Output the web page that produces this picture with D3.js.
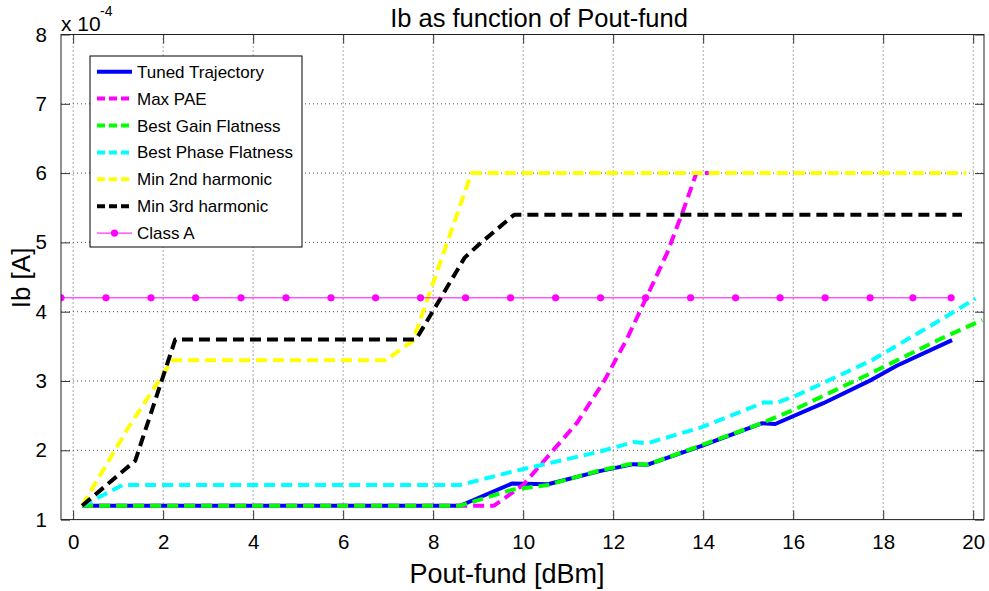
<!DOCTYPE html>
<html>
<head>
<meta charset="utf-8">
<script src="https://cdn.jsdelivr.net/npm/d3@7/dist/d3.min.js"></script>
<style>
  html, body { margin: 0; padding: 0; background: #fff; }
  svg { display: block; font-family: "Liberation Sans", Arial, Helvetica, sans-serif; }
</style>
</head>
<body>
<svg id="chart" width="989" height="591"></svg>
<script>
// Base current (x 1e-4 A) versus fundamental output power (dBm) for each load trajectory.
const tunedTrajectory = [[0.2,1.2],[8.6,1.2],[9.75,1.52],[10.55,1.51],[11.7,1.70],[12.45,1.80],[12.75,1.79],[13.95,2.06],[15.3,2.39],[15.6,2.38],[16.67,2.68],[17.75,3.02],[18.3,3.22],[19.53,3.59]];
const maxPAE = [[0.2,1.2],[9.35,1.2],[10.0,1.5],[11.2,2.4],[11.8,3.0],[12.3,3.6],[12.75,4.22],[13.2,4.85],[13.55,5.45],[13.85,6.0],[14.3,6.0]];
const bestGainFlatness = [[0.2,1.2],[8.6,1.2],[9.75,1.43],[10.55,1.50],[11.7,1.71],[12.45,1.81],[12.75,1.79],[13.95,2.07],[15.3,2.39],[16.1,2.61],[17.75,3.12],[19.25,3.60],[20.2,3.88]];
const bestPhaseFlatness = [[0.2,1.2],[1.1,1.5],[8.6,1.5],[9.75,1.69],[10.55,1.81],[11.7,1.98],[12.45,2.12],[12.75,2.10],[13.95,2.33],[15.35,2.69],[15.65,2.69],[16.1,2.80],[17.75,3.30],[19.4,3.93],[20.05,4.19]];
const min2ndHarmonic = [[0.2,1.2],[1.2,2.3],[2.2,3.3],[6.95,3.3],[7.55,3.58],[8.85,6.0],[19.85,6.0]];
const min3rdHarmonic = [[0.2,1.2],[1.38,1.85],[2.27,3.6],[7.62,3.6],[8.7,4.78],[9.0,4.96],[9.8,5.4],[19.75,5.4]];
const classAPout = [-0.27,0.73,1.73,2.72,3.73,4.73,5.73,6.72,7.72,8.72,9.72,10.72,11.72,12.72,13.72,14.72,15.71,16.71,17.71,18.66,19.51];
const classAIb = [4.2,4.2,4.2,4.2,4.2,4.2,4.2,4.2,4.2,4.2,4.2,4.2,4.2,4.2,4.2,4.2,4.2,4.2,4.2,4.2,4.2];

const seriesNames = ["Tuned Trajectory","Max PAE","Best Gain Flatness","Best Phase Flatness","Min 2nd harmonic","Min 3rd harmonic","Class A"];
const seriesColors = ["#0000ff","#ff00ff","#00ff00","#00ffff","#ffff00","#000000","#ff00ff"];
const xTickValues = [0,2,4,6,8,10,12,14,16,18,20];
const yTickValues = [1,2,3,4,5,6,7,8];

const titleText = "Ib as function of Pout-fund";
const xLabelText = "Pout-fund [dBm]";
const yLabelText = "Ib [A]";

const svg = d3.select("#chart");
const plot = { left: 61, right: 984, top: 34.5, bottom: 519.6 };

const x = d3.scaleLinear().domain([-0.27, 20.24]).range([plot.left, plot.right]);
const y = d3.scaleLinear().domain([1, 8]).range([plot.bottom, plot.top]);

svg.append("rect").attr("width", 989).attr("height", 591).attr("fill", "#fff");

svg.append("clipPath").attr("id", "plotClip")
  .append("rect")
  .attr("x", plot.left).attr("y", plot.top)
  .attr("width", plot.right - plot.left).attr("height", plot.bottom - plot.top);

// dotted grid
const grid = svg.append("g");
grid.selectAll("line.gx").data(xTickValues).join("line")
  .attr("x1", d => x(d)).attr("x2", d => x(d))
  .attr("y1", plot.top).attr("y2", plot.bottom)
  .attr("stroke", "#555").attr("stroke-width", 1).attr("stroke-dasharray", "1,3");
grid.selectAll("line.gy").data(yTickValues).join("line")
  .attr("y1", d => y(d)).attr("y2", d => y(d))
  .attr("x1", plot.left).attr("x2", plot.right)
  .attr("stroke", "#555").attr("stroke-width", 1).attr("stroke-dasharray", "1,3");

// axes with inward ticks on all four sides
const tickLen = 9;
const axisFont = 20.5;
const bottomAxis = d3.axisBottom(x).tickValues(xTickValues).tickSize(-tickLen).tickPadding(15).tickFormat(d3.format("d"));
const topAxis = d3.axisTop(x).tickValues(xTickValues).tickSize(-tickLen).tickFormat("");
const leftAxis = d3.axisLeft(y).tickValues(yTickValues).tickSize(-tickLen).tickPadding(14).tickFormat(d3.format("d"));
const rightAxis = d3.axisRight(y).tickValues(yTickValues).tickSize(-tickLen).tickFormat("");

function styleAxis(g) {
  g.select(".domain").remove();
  g.selectAll(".tick line").attr("stroke", "#333").attr("stroke-width", 1);
  g.selectAll(".tick text").attr("fill", "#000").attr("font-size", axisFont)
    .attr("font-family", "'Liberation Sans', Arial, sans-serif");
}
svg.append("g").attr("transform", `translate(0,${plot.bottom})`).call(bottomAxis).call(styleAxis);
svg.append("g").attr("transform", `translate(0,${plot.top})`).call(topAxis).call(styleAxis);
svg.append("g").attr("transform", `translate(${plot.left},0)`).call(leftAxis).call(styleAxis);
svg.append("g").attr("transform", `translate(${plot.right},0)`).call(rightAxis).call(styleAxis);

// series
const lineGen = d3.line().x(d => x(d[0])).y(d => y(d[1]));
const data = svg.append("g").attr("clip-path", "url(#plotClip)");
const dashed = "11,6";
const lineSeries = [
  { pts: tunedTrajectory, color: seriesColors[0], dash: null },
  { pts: maxPAE, color: seriesColors[1], dash: dashed },
  { pts: bestGainFlatness, color: seriesColors[2], dash: dashed },
  { pts: bestPhaseFlatness, color: seriesColors[3], dash: dashed },
  { pts: min2ndHarmonic, color: seriesColors[4], dash: dashed },
  { pts: min3rdHarmonic, color: seriesColors[5], dash: dashed }
];
lineSeries.forEach(s => {
  data.append("path")
    .attr("d", lineGen(s.pts))
    .attr("fill", "none")
    .attr("stroke", s.color)
    .attr("stroke-width", 4)
    .attr("stroke-linejoin", "round")
    .attr("stroke-dasharray", s.dash);
});

const classA = classAPout.map((p, i) => [p, classAIb[i]]);
data.append("path").attr("d", lineGen(classA))
  .attr("fill", "none").attr("stroke", seriesColors[6]).attr("stroke-width", 1);
data.selectAll("circle.classA").data(classA).join("circle")
  .attr("cx", d => x(d[0])).attr("cy", d => y(d[1])).attr("r", 3.6)
  .attr("fill", seriesColors[6]);

// box
svg.append("rect")
  .attr("x", plot.left).attr("y", plot.top)
  .attr("width", plot.right - plot.left).attr("height", plot.bottom - plot.top)
  .attr("fill", "none").attr("stroke", "#222").attr("stroke-width", 1);

// exponent marker
svg.append("text").attr("x", 61).attr("y", 31).attr("font-size", 21).attr("fill", "#000").text("x 10");
svg.append("text").attr("x", 100).attr("y", 16).attr("font-size", 14).attr("fill", "#000").text("-4");

// title and axis labels
svg.append("text").attr("x", 539).attr("y", 27).attr("text-anchor", "middle")
  .attr("font-size", 25.5).attr("fill", "#000").text(titleText);
svg.append("text").attr("x", 507).attr("y", 583).attr("text-anchor", "middle")
  .attr("font-size", 27).attr("fill", "#000").text(xLabelText);
svg.append("text").attr("transform", "translate(30,278) rotate(-90)").attr("text-anchor", "middle")
  .attr("font-size", 26).attr("fill", "#000").text(yLabelText);

// legend
const legend = svg.append("g");
legend.append("rect").attr("x", 90).attr("y", 56).attr("width", 212).attr("height", 191)
  .attr("fill", "#fff").attr("stroke", "#000").attr("stroke-width", 1);
const legendStyles = [null, "8,4", "8,4", "8,4", "8,4", "8,4", null];
seriesNames.forEach((name, i) => {
  const ly = 71.7 + i * 26.9;
  legend.append("line")
    .attr("x1", 97).attr("x2", 132).attr("y1", ly).attr("y2", ly)
    .attr("stroke", seriesColors[i])
    .attr("stroke-width", i === 6 ? 1 : 4)
    .attr("stroke-dasharray", legendStyles[i]);
  if (i === 6) {
    legend.append("circle").attr("cx", 114.5).attr("cy", ly).attr("r", 3.6).attr("fill", seriesColors[i]);
  }
  legend.append("text").attr("x", 137).attr("y", ly + 6)
    .attr("font-size", 17).attr("fill", "#000").text(name);
});
</script>
</body>
</html>
